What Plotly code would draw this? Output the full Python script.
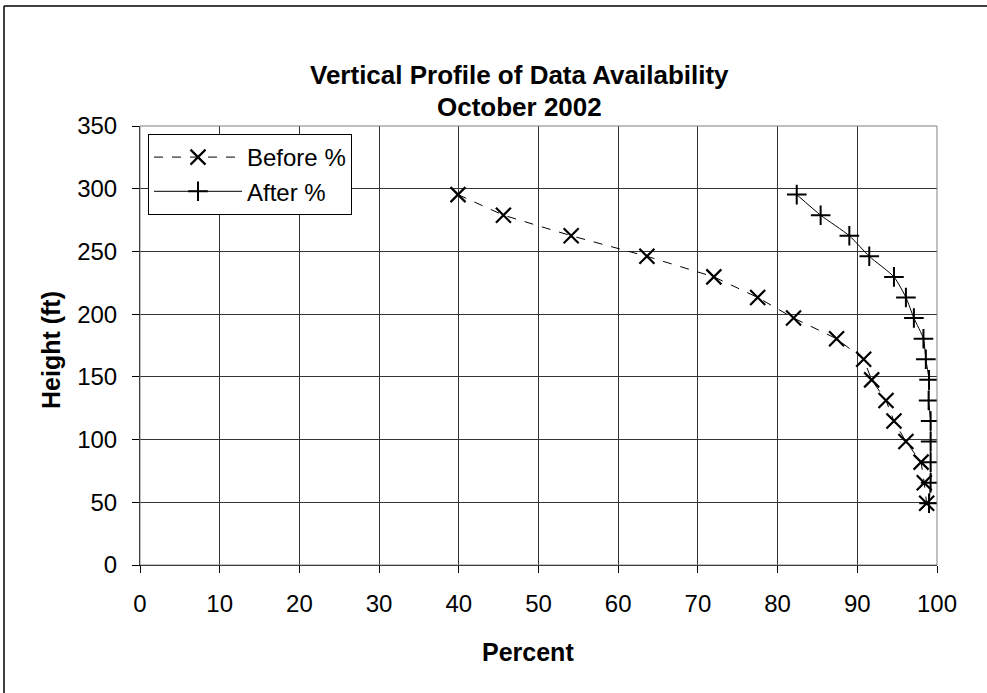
import plotly.graph_objects as go

heights_ft = [295.3, 278.9, 262.5, 246.1, 229.7, 213.3, 196.9, 180.4,
              164.0, 147.6, 131.2, 114.8, 98.4, 82.0, 65.6, 49.2]
before_pct = [39.9, 45.6, 54.1, 63.6, 72.0, 77.5, 82.0, 87.4,
              90.8, 91.8, 93.6, 94.6, 96.1, 98.0, 98.4, 98.7]
after_pct = [82.4, 85.4, 89.0, 91.5, 94.6, 96.1, 97.1, 98.3,
             98.6, 99.0, 98.95, 99.2, 99.2, 99.2, 99.2, 99.0]
x_ticks = list(range(0, 101, 10))
y_ticks = list(range(0, 351, 50))

FONT = "Liberation Sans, Arial, sans-serif"
W, H = 987, 693
L, R, T, B = 140, 50, 126, 128
PW, PH = W - L - R, H - T - B


def px_x(p):
    return (p - L) / PW


def px_y(p):
    return 1 - (p - T) / PH


fig = go.Figure()
fig.add_trace(go.Scatter(
    x=before_pct, y=heights_ft, name="Before %", mode="lines+markers",
    line=dict(color="black", width=1, dash="dash"),
    marker=dict(symbol="x-thin", size=15, line=dict(color="black", width=2.2)),
))
fig.add_trace(go.Scatter(
    x=after_pct, y=heights_ft, name="After %", mode="lines+markers",
    line=dict(color="black", width=1, shape="spline", smoothing=0.6),
    marker=dict(symbol="cross-thin", size=14, line=dict(color="black", width=2)),
))

fig.update_layout(
    width=W, height=H,
    margin=dict(l=L, r=R, t=T, b=B),
    paper_bgcolor="white", plot_bgcolor="white",
    font=dict(family=FONT, size=24, color="black"),
    showlegend=True,
    legend=dict(
        x=px_x(148), y=px_y(134), xanchor="left", yanchor="top",
        bgcolor="white", bordercolor="black", borderwidth=1,
        font=dict(family=FONT, size=24, color="black"),
        itemwidth=88, tracegroupgap=0,
    ),
    xaxis=dict(
        range=[0, 100], tickvals=x_ticks, ticktext=[str(v) for v in x_ticks],
        showgrid=True, gridcolor="#333333", gridwidth=1,
        showline=True, linecolor="black", linewidth=1,
        ticks="outside", ticklen=7, tickcolor="black",
        ticklabelstandoff=10,
        tickfont=dict(family=FONT, size=24), zeroline=False,
    ),
    yaxis=dict(
        range=[0, 350], tickvals=y_ticks, ticktext=[str(v) for v in y_ticks],
        showgrid=True, gridcolor="#333333", gridwidth=1,
        showline=True, linecolor="black", linewidth=1,
        ticks="outside", ticklen=7, tickcolor="black",
        ticklabelstandoff=10,
        tickfont=dict(family=FONT, size=24), zeroline=False,
    ),
    shapes=[
        dict(type="rect", xref="paper", yref="paper", x0=0, x1=1, y0=0, y1=1,
             line=dict(color="#808080", width=1), layer="above"),
        dict(type="line", xref="paper", yref="paper",
             x0=px_x(4), x1=px_x(W + 10), y0=px_y(6), y1=px_y(6),
             line=dict(color="black", width=1.5)),
        dict(type="line", xref="paper", yref="paper",
             x0=px_x(4), x1=px_x(4), y0=px_y(6), y1=px_y(H + 10),
             line=dict(color="black", width=1.5)),
    ],
    annotations=[
        dict(text="<b>Vertical Profile of Data Availability</b>", xref="paper", yref="paper",
             x=px_x(519), y=px_y(75), xanchor="center", yanchor="middle",
             showarrow=False, font=dict(family=FONT, size=26)),
        dict(text="<b>October 2002</b>", xref="paper", yref="paper",
             x=px_x(519), y=px_y(107), xanchor="center", yanchor="middle",
             showarrow=False, font=dict(family=FONT, size=26)),
        dict(text="<b>Percent</b>", xref="paper", yref="paper",
             x=px_x(528), y=px_y(652), xanchor="center", yanchor="middle",
             showarrow=False, font=dict(family=FONT, size=25)),
        dict(text="<b>Height (ft)</b>", xref="paper", yref="paper",
             x=px_x(51), y=px_y(350), xanchor="center", yanchor="middle",
             textangle=-90, showarrow=False, font=dict(family=FONT, size=25)),
    ],
)

fig.write_html("out.html")
